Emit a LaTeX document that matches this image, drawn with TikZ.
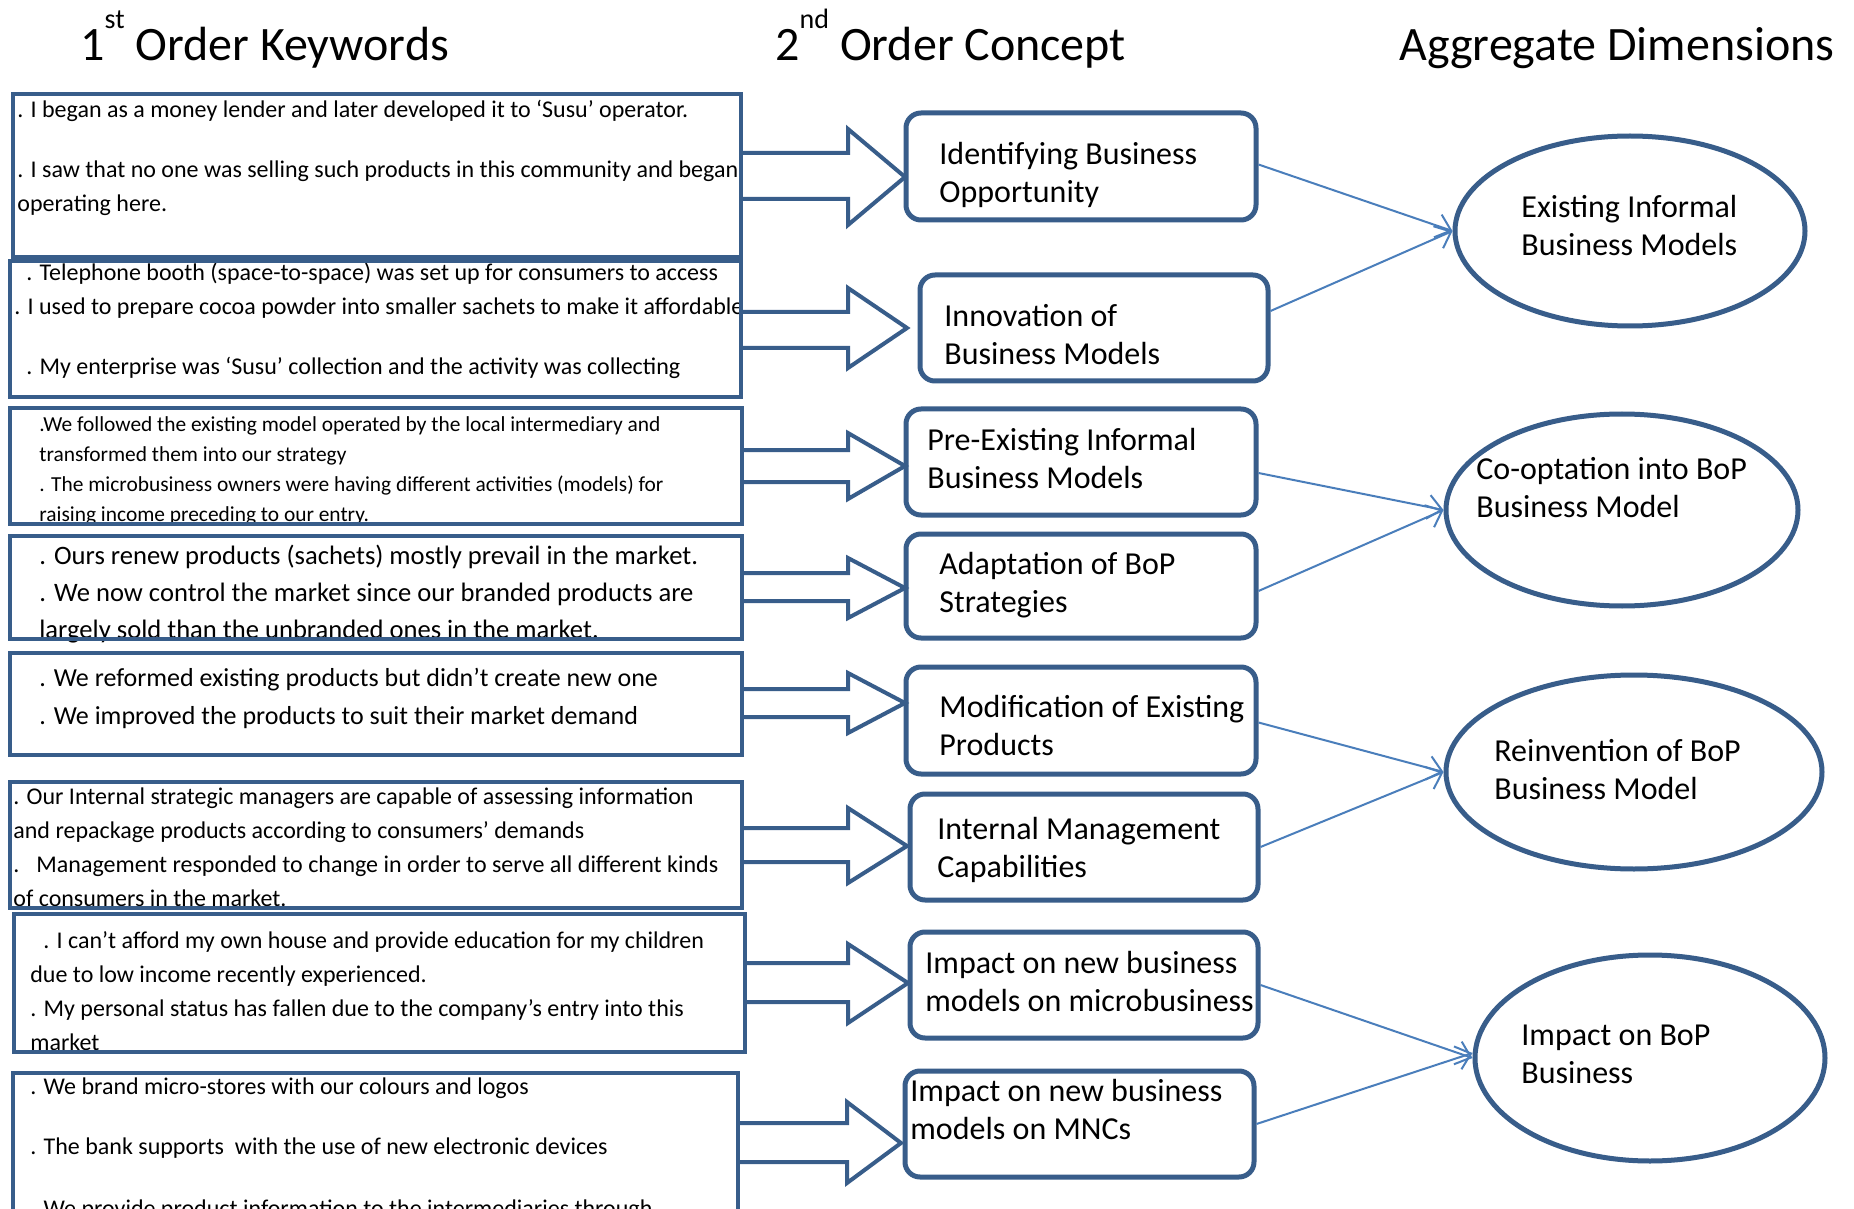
\documentclass[tikz,border=0pt]{standalone}
\usepackage{fontspec}
\setmainfont{Carlito}
\usetikzlibrary{shapes.geometric,arrows.meta,fit}
\definecolor{bord}{RGB}{56,93,138}
\definecolor{conn}{RGB}{74,126,187}
\newcommand\mylines[1]{\begin{tabular}[t]{@{}l@{}}#1\end{tabular}}
\begin{document}
\begin{tikzpicture}[x=0.5pt,y=-0.5pt,
  lbox/.style={draw=bord,line width=2pt,inner sep=0pt},
  mbox/.style={draw=bord,line width=2.5pt,rounded corners=7.5pt,inner sep=0pt},
  dim/.style={ellipse,draw=bord,line width=2.5pt,inner sep=0pt},
  barrow/.style={draw=bord,line width=2pt,line join=miter},
  conn/.style={draw=conn,line width=1pt,-{Straight Barb[length=7pt,width=12pt]}},
  txt/.style={anchor=base west,inner sep=0pt},
  title/.style={txt,font=\fontsize{24pt}{28pt}\selectfont},
  mtxt/.style={txt,font=\fontsize{16pt}{19pt}\selectfont},
  ftA/.style={txt,font=\fontsize{12pt}{17pt}\selectfont},
  ftB/.style={txt,font=\fontsize{10.7pt}{15pt}\selectfont},
  ftC/.style={txt,font=\fontsize{13.3pt}{18.5pt}\selectfont},
  ftD/.style={txt,font=\fontsize{13pt}{19pt}\selectfont}]
\fill[white] (0,0) rectangle (1854,1209);
\useasboundingbox (0,0) rectangle (1854,1209);
\clip (0,0) rectangle (1854,1209);

% titles
\node[title] (T1) at (80,61) {1\raisebox{16pt}{\fontsize{14pt}{16pt}\selectfont st} Order Keywords};
\node[title] (T2) at (775,61) {2\raisebox{16pt}{\fontsize{14pt}{16pt}\selectfont nd} Order Concept};
\node[title] (T3) at (1399,61) {Aggregate Dimensions};

% left texts
\node[ftA] (L1t) at (17,118) {\mylines{. I began as a money lender and later developed it to ‘Susu’ operator.\\[13pt]
. I saw that no one was selling such products in this community and began\\
operating here.}};
\node[ftA] (L2t) at (26,281) {\mylines{. Telephone booth (space-to-space) was set up for consumers to access\\
\hspace*{-6pt}. I used to prepare cocoa powder into smaller sachets to make it affordable\\[13pt]
. My enterprise was ‘Susu’ collection and the activity was collecting}};
\node[ftB] (L3t) at (39,431) {\mylines{.We followed the existing model operated by the local intermediary and\\
transformed them into our strategy\\
. The microbusiness owners were having different activities (models) for\\
raising income preceding to our entry.}};
\node[ftC] (L4t) at (39,564) {\mylines{. Ours renew products (sachets) mostly prevail in the market.\\
. We now control the market since our branded products are\\
largely sold than the unbranded ones in the market.}};
\node[ftD] (L5t) at (39,686) {\mylines{. We reformed existing products but didn’t create new one\\
. We improved the products to suit their market demand}};
\node[ftA] (L6t) at (13,804) {\mylines{. Our Internal strategic managers are capable of assessing information\\
and repackage products according to consumers’ demands\\
.\hspace{8.5pt}Management responded to change in order to serve all different kinds\\
of consumers in the market.}};
\node[ftA] (L7t) at (30,948) {\mylines{\hspace*{6.5pt}. I can’t afford my own house and provide education for my children\\
due to low income recently experienced.\\
. My personal status has fallen due to the company's entry into this\\
market}};
\node[ftA] (L8t) at (30,1094) {\mylines{. We brand micro-stores with our colours and logos\\[13pt]
. The bank supports\ \ with the use of new electronic devices\\[14pt]
. We provide product information to the intermediaries through}};

% left boxes
\node[lbox,fit={(13,94) (741,257)}] (L1) {};
\node[lbox,fit={(10,261) (741,397)}] (L2) {};
\node[lbox,fit={(10,408) (742,524)}] (L3) {};
\node[lbox,fit={(10,536) (742,639)}] (L4) {};
\node[lbox,fit={(10,653) (742,755)}] (L5) {};
\node[lbox,fit={(10,782) (742,908)}] (L6) {};
\node[lbox,fit={(14,914) (745,1052)}] (L7) {};
\node[lbox,fit={(13,1073) (738,1250)}] (L8) {};

% middle boxes
\node[mbox,fit={(906,113) (1256,220)}] (M1) {};
\node[mbox,fit={(920,275) (1268,381)}] (M2) {};
\node[mbox,fit={(906,409) (1256,515)}] (M3) {};
\node[mbox,fit={(906,534) (1256,638)}] (M4) {};
\node[mbox,fit={(906,667) (1256,774)}] (M5) {};
\node[mbox,fit={(910,794) (1258,900)}] (M6) {};
\node[mbox,fit={(910,932) (1258,1038)}] (M7) {};
\node[mbox,fit={(905,1071) (1254,1177)}] (M8) {};

\node[mtxt] (M1t) at (939,165) {\mylines{Identifying Business\\Opportunity}};
\node[mtxt] (M2t) at (944,327) {\mylines{Innovation of\\Business Models}};
\node[mtxt] (M3t) at (927,451) {\mylines{Pre-Existing Informal\\Business Models}};
\node[mtxt] (M4t) at (939,574) {\mylines{Adaptation of BoP\\Strategies}};
\node[mtxt] (M5t) at (939,717) {\mylines{Modification of Existing\\Products}};
\node[mtxt] (M6t) at (937,839) {\mylines{Internal Management\\Capabilities}};
\node[mtxt] (M7t) at (925,973) {\mylines{Impact on new business\\models on microbusiness}};
\node[mtxt] (M8t) at (910,1101) {\mylines{Impact on new business\\models on MNCs}};

% ellipses
\node[dim,minimum width=175pt,minimum height=95pt] (E1) at (1630,231) {};
\node[dim,minimum width=176pt,minimum height=96pt] (E2) at (1622,510) {};
\node[dim,minimum width=188pt,minimum height=97pt] (E3) at (1634,772) {};
\node[dim,minimum width=175pt,minimum height=103pt] (E4) at (1650,1058) {};

\node[mtxt] (E1t) at (1521,218) {\mylines{Existing Informal\\Business Models}};
\node[mtxt] (E2t) at (1476,480) {\mylines{Co-optation into BoP\\Business Model}};
\node[mtxt] (E3t) at (1494,761) {\mylines{Reinvention of BoP\\Business Model}};
\node[mtxt] (E4t) at (1521,1045) {\mylines{Impact on BoP\\Business}};

% block arrows
\draw[barrow] (L1.east |- 0,153) -- (848,153) -- (848,129) -- (905,177) -- (848,225) -- (848,199) -- (L1.east |- 0,199);
\draw[barrow] (L2.east |- 0,312) -- (848,312) -- (848,288) -- (907,328) -- (848,368) -- (848,348) -- (L2.east |- 0,348);
\draw[barrow] (L3.east |- 0,450) -- (848,450) -- (848,433) -- (905,466) -- (848,499) -- (848,482) -- (L3.east |- 0,482);
\draw[barrow] (L4.east |- 0,573) -- (848,573) -- (848,558) -- (905,588) -- (848,618) -- (848,601) -- (L4.east |- 0,601);
\draw[barrow] (L5.east |- 0,689) -- (848,689) -- (848,673) -- (905,703) -- (848,733) -- (848,717) -- (L5.east |- 0,717);
\draw[barrow] (L6.east |- 0,828) -- (848,828) -- (848,808) -- (907,846) -- (848,883) -- (848,862) -- (L6.east |- 0,862);
\draw[barrow] (L7.east |- 0,963) -- (848,963) -- (848,944) -- (908,983) -- (848,1023) -- (848,1002) -- (L7.east |- 0,1002);
\draw[barrow] (L8.east |- 0,1123) -- (847,1123) -- (847,1102) -- (901,1143) -- (847,1183) -- (847,1162) -- (L8.east |- 0,1162);

% connectors
\draw[conn] ([yshift=1pt]M1.east) -- (E1.west);
\draw[conn] ([yshift=8.5pt]M2.east) -- (E1.west);
\draw[conn] ([yshift=-5.5pt]M3.east) -- (E2.west);
\draw[conn] ([yshift=-2.5pt]M4.east) -- (E2.west);
\draw[conn] ([yshift=-1pt]M5.east) -- (E3.west);
\draw[conn] (M6.east) -- (E3.west);
\draw[conn] (M7.east) -- (E4.west);
\draw[conn] (M8.east) -- ([yshift=2.5pt]E4.west);
\end{tikzpicture}
\end{document}
